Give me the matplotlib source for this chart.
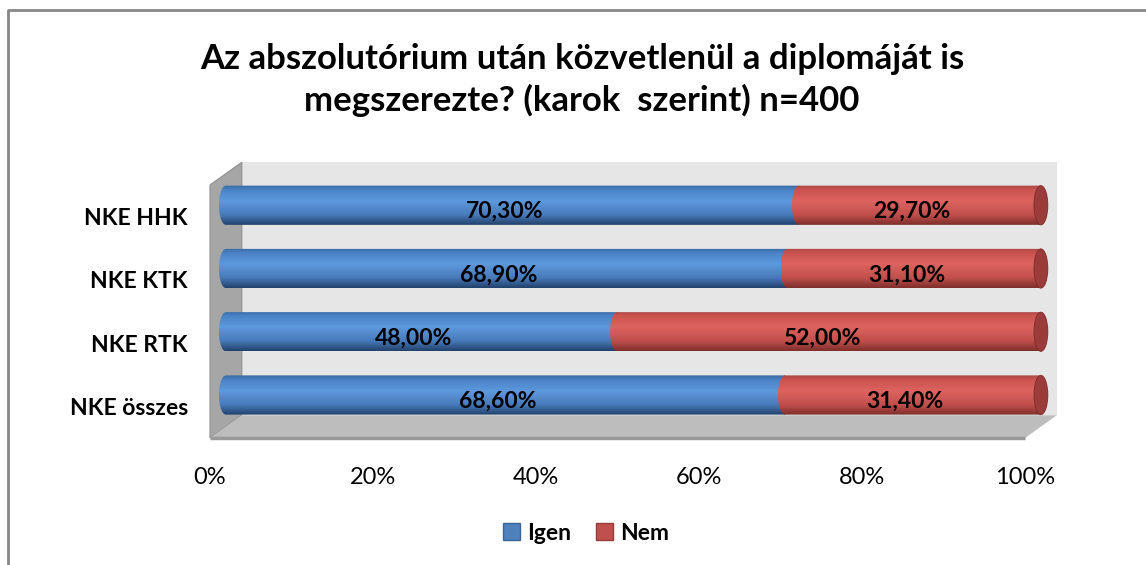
import numpy as np
import matplotlib
matplotlib.use("Agg")
import matplotlib.pyplot as plt
from matplotlib.colors import LinearSegmentedColormap
from matplotlib.lines import Line2D
from matplotlib.patches import Ellipse, Patch, Polygon, Rectangle

categories = ["NKE összes", "NKE RTK", "NKE KTK", "NKE HHK"]
igen = [68.6, 48.0, 68.9, 70.3]
nem = [31.4, 52.0, 31.1, 29.7]
series = ["Igen", "Nem"]
xticks = [0, 20, 40, 60, 80, 100]
title = ("Az abszolutórium után közvetlenül a diplomáját is\n"
         "megszerezte? (karok  szerint) n=400")

W, H = 1146, 565
FONT = ["Lato", "DejaVu Sans"]
plt.rcParams["font.family"] = FONT

# 3-D box depth in data units (x: percent, y: category slots)
DX, DY = 3.9, 0.36
BAR_H = 0.62
CAP_W = 1.7

blue_cm = LinearSegmentedColormap.from_list("b", [
    (0.0, "#3a6aa3"), (0.12, "#4b82c6"), (0.4, "#5e99dd"),
    (0.75, "#4779b9"), (1.0, "#22426c")])
red_cm = LinearSegmentedColormap.from_list("r", [
    (0.0, "#ac4643"), (0.12, "#cb5450"), (0.4, "#dd635f"),
    (0.75, "#c14f4c"), (1.0, "#7e2e2c")])

fig = plt.figure(figsize=(W / 100, H / 100), dpi=100)
ax = fig.add_axes([210 / W, (H - 438) / H, 815 / W, 253 / H])


def cylinder(y, x0, x1, cmap, cap=None):
    xc0, xc1 = x0 + DX / 2, x1 + DX / 2
    yc = y + DY / 2
    h, a = BAR_H / 2, CAP_W / 2
    t = np.linspace(np.pi / 2, 3 * np.pi / 2, 40)
    left = np.column_stack([xc0 + a * np.cos(t), yc + h * np.sin(t)])
    verts = np.vstack([left, [[xc1, yc - h], [xc1, yc + h]]])
    shape = Polygon(verts, closed=True, fc="none", ec="none", clip_on=False)
    ax.add_patch(shape)
    grad = np.linspace(0, 1, 120).reshape(-1, 1)
    im = ax.imshow(grad, cmap=cmap, extent=(xc0 - a, xc1, yc - h, yc + h),
                   origin="upper", aspect="auto", interpolation="bilinear",
                   zorder=3)
    im.set_clip_path(shape)
    im.set_clip_box(fig.bbox)
    if cap is not None:
        ax.add_patch(Ellipse((xc1, yc), CAP_W, BAR_H, fc=cap, ec="#7a2c2a",
                             lw=0.6, zorder=4, clip_on=False))


# walls and floor
ax.add_patch(Rectangle((DX, -0.5 + DY), 100, 4, fc="#e6e6e6", ec="none",
                       zorder=0, clip_on=False))
ax.add_patch(Polygon([(0, -0.5), (0, 3.5), (DX, 3.5 + DY), (DX, -0.5 + DY)],
                     fc="#a6a6a6", ec="#8f8f8f", lw=0.8, zorder=1,
                     clip_on=False))
ax.add_patch(Polygon([(0, -0.5), (100, -0.5), (100 + DX, -0.5 + DY),
                      (DX, -0.5 + DY)], fc="#bdbdbd", ec="none", zorder=1,
                     clip_on=False))
ax.plot([0, 100], [-0.5, -0.5], color="#999999", lw=2.5, zorder=2,
        clip_on=False, solid_capstyle="butt")

for i, (a, b) in enumerate(zip(igen, nem)):
    cylinder(i, 0, a, blue_cm)
    cylinder(i, a, a + b, red_cm, cap="#9b3c3a")
    for x0, v in ((0, a), (a, b)):
        ax.text(x0 + v / 2 + 1.0, i + 0.08, f"{v:.2f}%".replace(".", ","),
                ha="center", va="center", fontsize=16.5, fontweight="bold",
                color="black", zorder=5)

ax.set_xlim(0, 100)
ax.set_ylim(-0.5, 3.5)
ax.set_xticks(xticks)
ax.set_xticklabels([f"{t}%" for t in xticks], fontsize=17)
ax.set_yticks(range(len(categories)))
ax.set_yticklabels(categories, fontsize=16.5, fontweight="bold")
ax.tick_params(length=0)
ax.tick_params(axis="x", pad=21)
ax.tick_params(axis="y", pad=16)
for s in ax.spines.values():
    s.set_visible(False)
ax.patch.set_visible(False)

fig.text(582 / W, 1 - 80 / H, title, ha="center", va="center",
         fontsize=25, fontweight="bold", linespacing=1.3)

handles = [Patch(fc="#4f81bd", ec="#3b6596"), Patch(fc="#c0504d", ec="#943c3a")]
fig.legend(handles, series, loc="center", bbox_to_anchor=(586 / W, 1 - 533 / H),
           ncol=2, frameon=False, handlelength=0.75, handleheight=0.75,
           handletextpad=0.3, columnspacing=1.1,
           prop={"size": 16.5, "weight": "bold"})

# chart border (only left and top edges fall inside the picture)
fig.add_artist(Line2D([8 / W, 8 / W, 1.0], [0.0, 1 - 10 / H, 1 - 10 / H],
                      transform=fig.transFigure, color="#878787", lw=2))

fig.savefig("out.png", dpi=100)
